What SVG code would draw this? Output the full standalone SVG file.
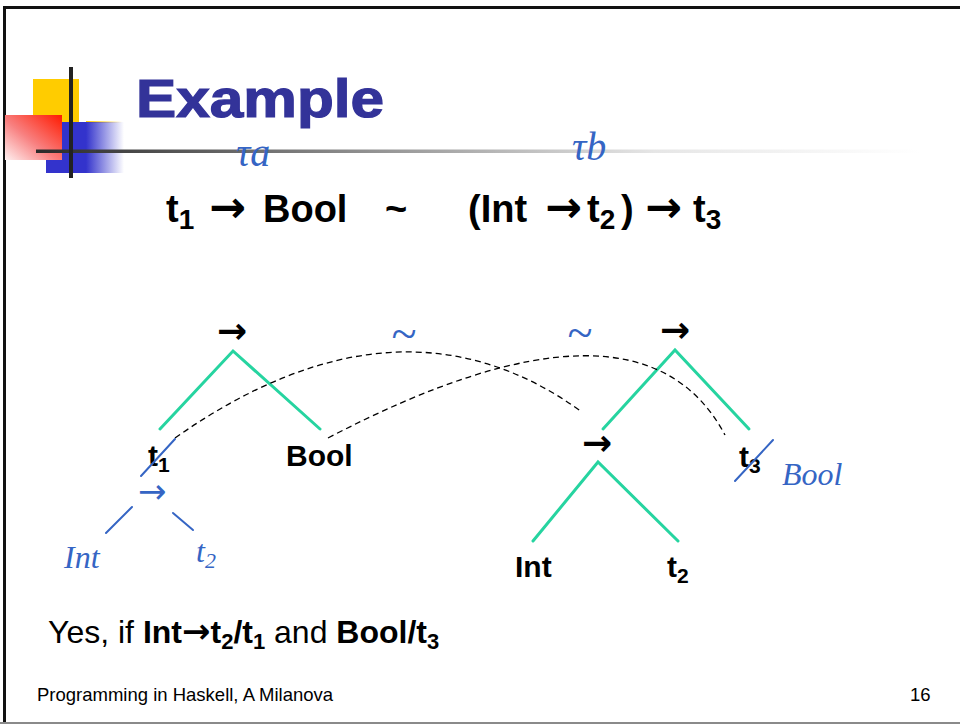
<svg xmlns="http://www.w3.org/2000/svg" width="960" height="724" viewBox="0 0 960 724">
<defs>
<linearGradient id="rule" gradientUnits="userSpaceOnUse" x1="36" y1="0" x2="920" y2="0">
<stop offset="0" stop-color="#2a2a2a"/><stop offset="0.35" stop-color="#8a8a8a"/><stop offset="0.7" stop-color="#e6e6e6"/><stop offset="1" stop-color="#ffffff"/>
</linearGradient>
<linearGradient id="red" x1="1" y1="0" x2="0" y2="1">
<stop offset="0" stop-color="#ff1a00"/><stop offset="0.55" stop-color="#f88080"/><stop offset="1" stop-color="#fff0f0"/>
</linearGradient>
<linearGradient id="blue" gradientUnits="userSpaceOnUse" x1="86" y1="0" x2="124" y2="0">
<stop offset="0" stop-color="#3333cc"/><stop offset="1" stop-color="#3333cc" stop-opacity="0"/>
</linearGradient>
<linearGradient id="ystrip" gradientUnits="userSpaceOnUse" x1="86" y1="0" x2="122" y2="0">
<stop offset="0" stop-color="#ffcc00"/><stop offset="1" stop-color="#ffcc00" stop-opacity="0"/>
</linearGradient>
</defs>
<style>
.b{font-family:"Liberation Sans",Arial,sans-serif;font-weight:bold;fill:#000}
.r{font-family:"Liberation Sans",Arial,sans-serif;fill:#000}
.ar{font-family:"DejaVu Sans",sans-serif;font-weight:bold;fill:#000}
.hw{font-family:"Liberation Serif","DejaVu Serif",serif;font-style:italic;fill:#3565c4}
.hwa{font-family:"DejaVu Sans",sans-serif;fill:#3565c4}
.tree{stroke:#26d4a0;stroke-width:3;fill:none;stroke-linecap:round}
.dash{stroke:#000;stroke-width:1.3;fill:none;stroke-dasharray:6 4}
.pen{stroke:#3565c4;stroke-width:2;fill:none;stroke-linecap:round}
</style>
<rect width="960" height="724" fill="#fff"/>
<!-- slide border -->
<rect x="3" y="6" width="960" height="3" fill="#111"/>
<rect x="3" y="6" width="3" height="718" fill="#111"/>
<rect x="0" y="722" width="960" height="2" fill="#8a8a8a"/>
<!-- title decoration -->
<g id="decoration">
<rect x="33" y="79" width="46" height="43" fill="#ffcc00"/>
<rect x="86" y="121" width="36" height="2" fill="url(#ystrip)"/>
<rect x="46" y="122" width="78" height="51" fill="url(#blue)"/>
<rect x="5" y="115" width="57" height="45" fill="url(#red)"/>
<rect x="36" y="149.5" width="884" height="3.5" fill="url(#rule)"/>
<rect x="69" y="67" width="4" height="111" fill="#222"/>
</g>
<text id="title" x="136" y="117" font-family="'Liberation Sans',Arial,sans-serif" font-weight="bold" font-size="53" fill="#333399" stroke="#333399" stroke-width="1.2" textLength="248" lengthAdjust="spacingAndGlyphs">Example</text>
<!-- formula -->
<g id="formula" class="b" font-size="38">
<text x="166" y="222">t<tspan font-size="28" dy="7">1</tspan></text>
<text class="ar" x="209" y="222" font-size="44">→</text>
<text x="263" y="222">Bool</text>
<text x="385" y="222">~</text>
<text x="468" y="222">(Int</text>
<text class="ar" x="545" y="222" font-size="44">→</text>
<text x="587" y="222">t<tspan font-size="28" dy="7">2</tspan></text>
<text x="621" y="222">)</text>
<text class="ar" x="645" y="222" font-size="44">→</text>
<text x="693" y="222">t<tspan font-size="28" dy="7">3</tspan></text>
</g>
<g id="annot-top" class="hw">
<text x="236" y="166" font-size="40">τa</text>
<text x="572" y="160" font-size="40">τb</text>
</g>
<!-- connectors -->
<g id="connectors">
<path class="tree" d="M160,429 L233,351 L320,429"/>
<path class="tree" d="M603,429 L675,350 L749,429"/>
<path class="tree" d="M533,541 L598,462 L678,541"/>
<path class="dash" d="M175,438 Q400,280 582,412"/>
<path class="dash" d="M328,438 Q640,275 725,435"/>
</g>
<!-- left tree -->
<g id="n-arrow-left"><text class="ar" x="217" y="343" font-size="36">→</text></g>
<g id="n-t1"><text class="b" x="148" y="466" font-size="30">t<tspan font-size="21" dy="6">1</tspan></text></g>
<g id="n-bool"><text class="b" x="286" y="466" font-size="30">Bool</text></g>
<!-- right tree -->
<g id="n-arrow-right"><text class="ar" x="660" y="342" font-size="36">→</text></g>
<g id="n-arrow-inner"><text class="ar" x="582" y="455" font-size="36">→</text></g>
<g id="n-t3"><text class="b" x="739" y="467" font-size="30">t<tspan font-size="21" dy="6">3</tspan></text></g>
<g id="n-int"><text class="b" x="515" y="577" font-size="30">Int</text></g>
<g id="n-t2"><text class="b" x="667" y="577" font-size="30">t<tspan font-size="21" dy="6">2</tspan></text></g>
<!-- handwritten annotations -->
<g id="handwritten">
<text class="hw" x="391" y="349" font-size="46">~</text>
<text class="hw" x="567" y="348" font-size="46">~</text>
<path class="pen" d="M141,476 L175,439"/>
<path class="pen" d="M735,481 L773,440"/>
<text class="hwa" x="138" y="503" font-size="34">→</text>
<path class="pen" d="M132,507 L106,533"/>
<path class="pen" d="M173,513 L193,530"/>
<text class="hw" x="64" y="568" font-size="32">Int</text>
<text class="hw" x="196" y="562" font-size="32">t<tspan font-size="22" dy="6">2</tspan></text>
<text class="hw" x="782" y="485" font-size="32">Bool</text>
</g>
<!-- bottom line -->
<text id="answer" class="r" x="48" y="643" font-size="32">Yes, if <tspan font-weight="bold">Int<tspan font-family="'DejaVu Sans',sans-serif" font-size="34">→</tspan>t<tspan font-size="22" dy="6">2</tspan><tspan dy="-6">/t</tspan><tspan font-size="22" dy="6">1</tspan></tspan><tspan dy="-6"> and </tspan><tspan font-weight="bold">Bool/t<tspan font-size="22" dy="6">3</tspan></tspan></text>
<text id="footer" class="r" x="37" y="701" font-size="18.5">Programming in Haskell, A Milanova</text>
<text id="page" class="r" x="910" y="701" font-size="18.5">16</text>
</svg>
